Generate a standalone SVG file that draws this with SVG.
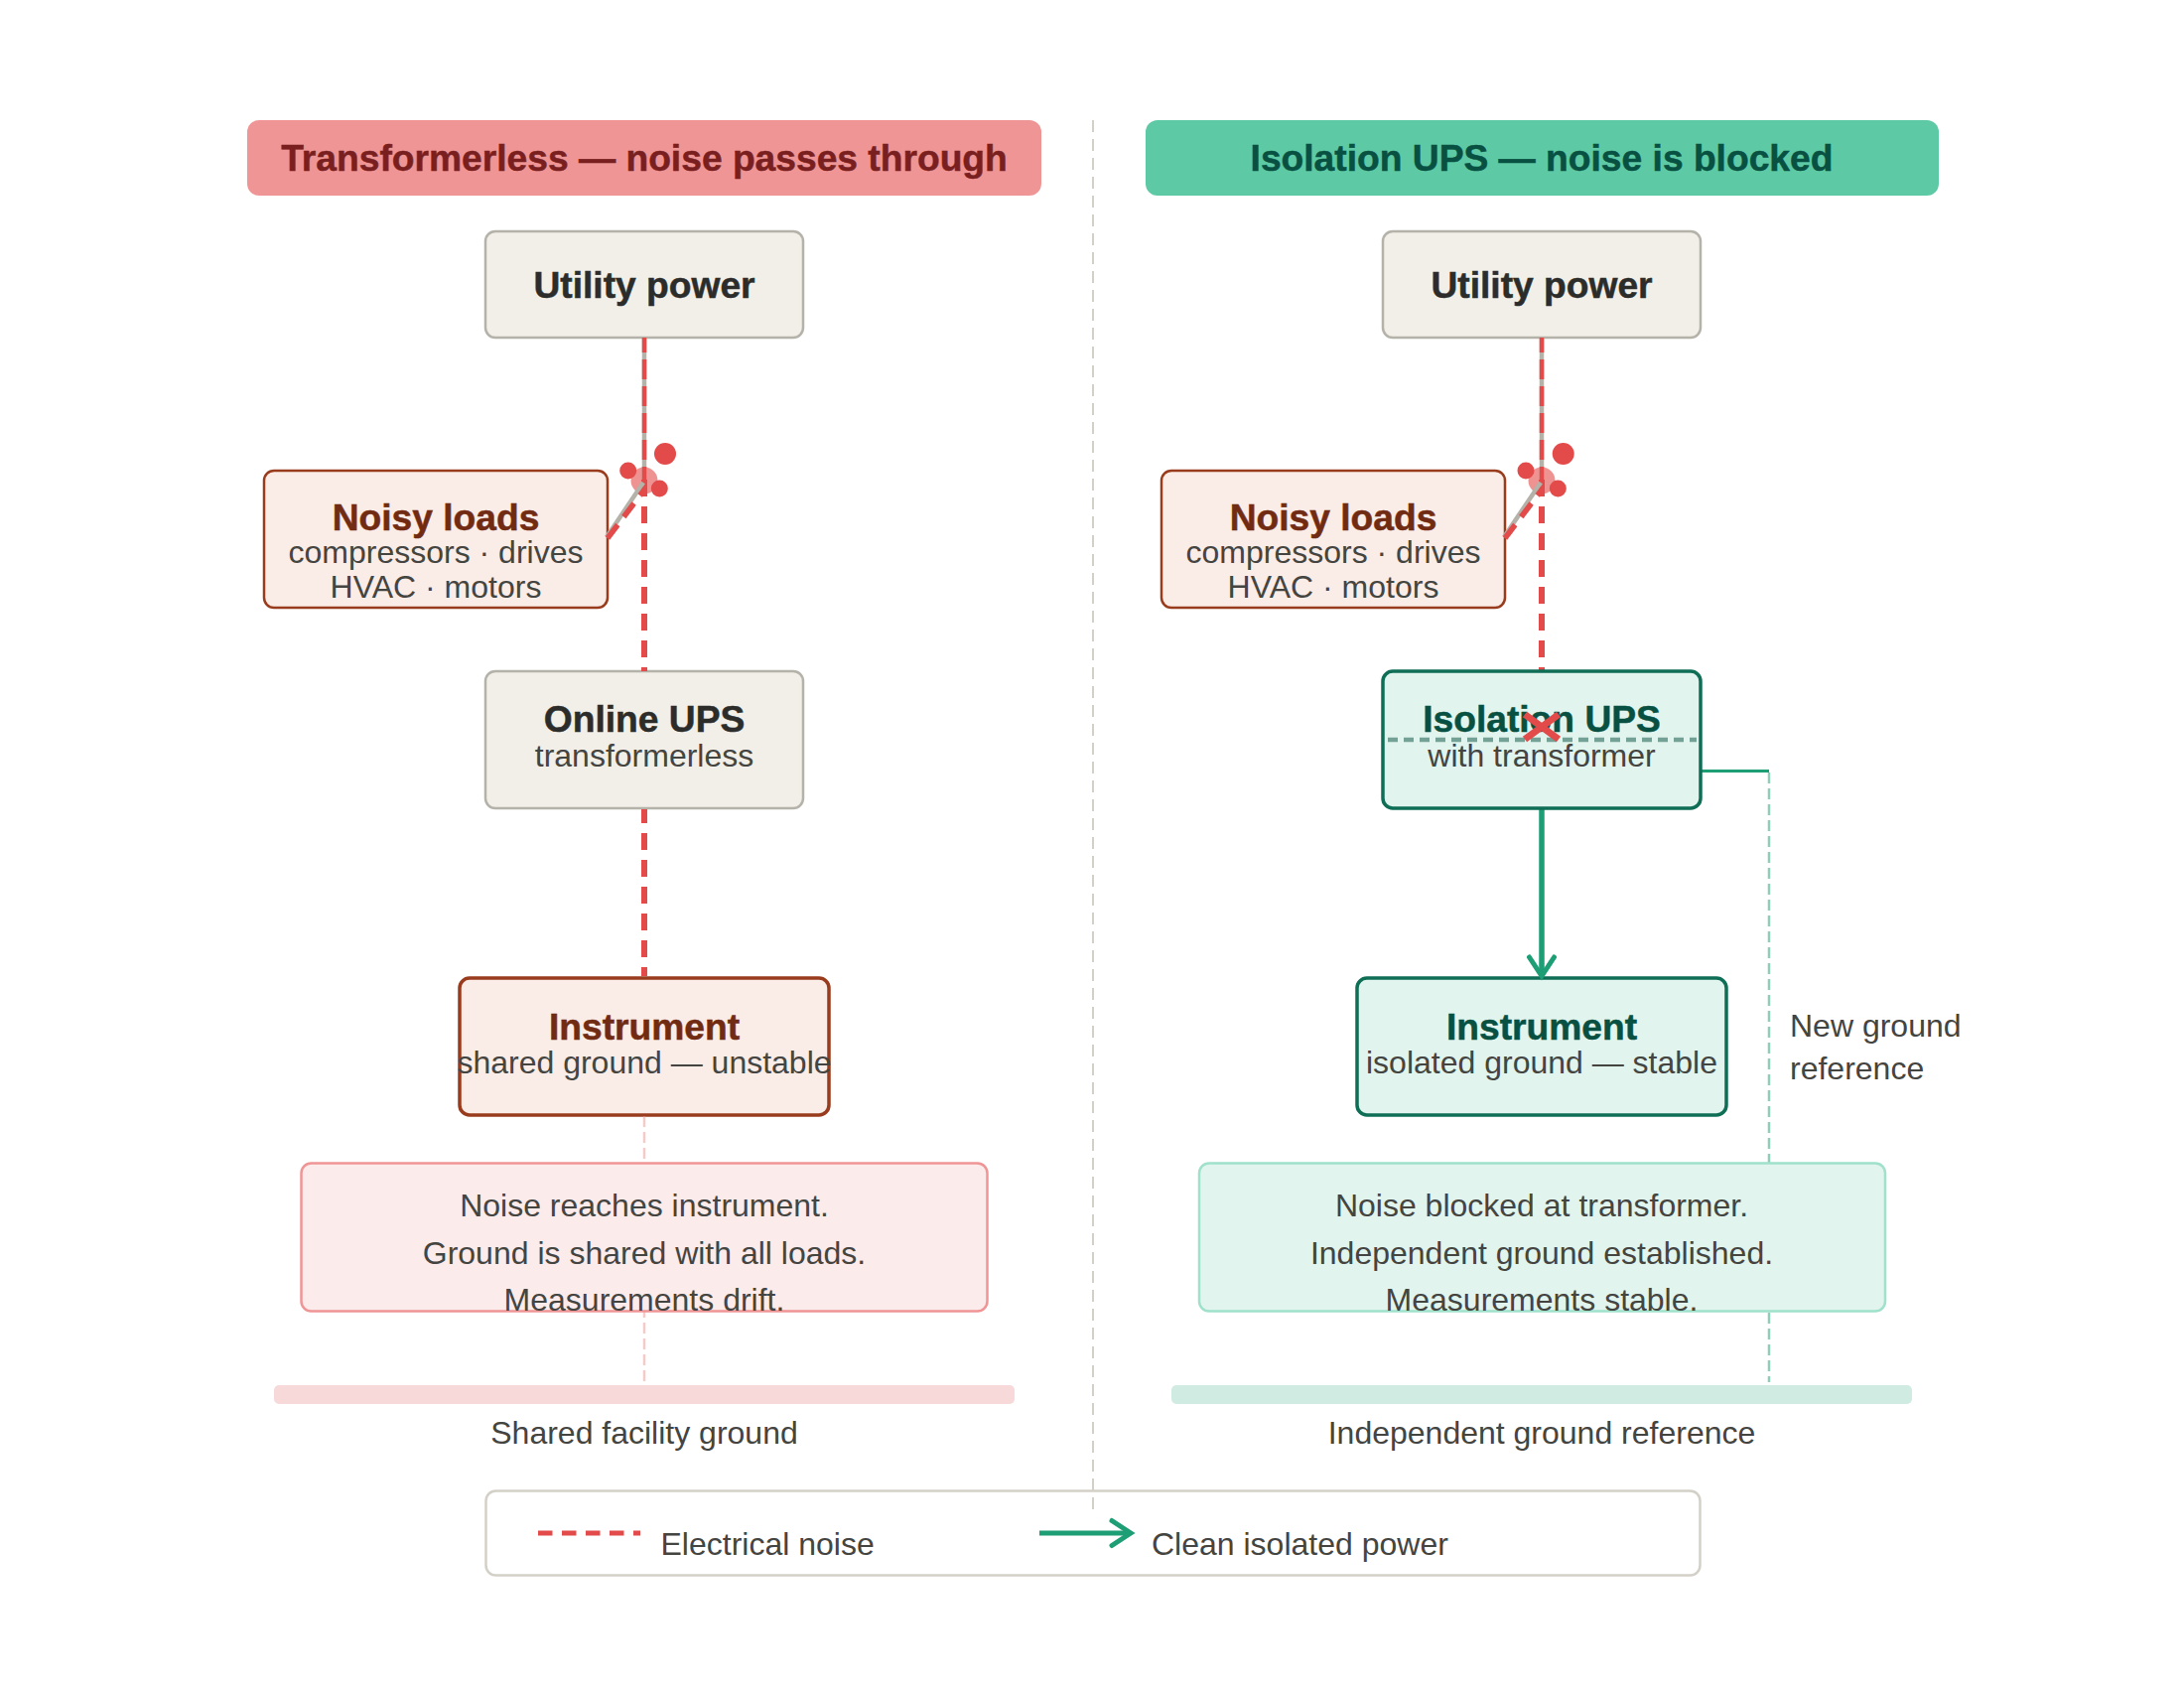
<svg xmlns="http://www.w3.org/2000/svg" width="2200" height="1700" viewBox="0 0 2200 1700">
<style>
text{font-family:"Liberation Sans",Arial,sans-serif;text-anchor:middle}
.hd,.tt{font-size:37.2px;font-weight:700;stroke-width:.5}
.st,.bd{font-size:32px;fill:#444441}
.start{text-anchor:start}
.red-t{fill:#712b13;stroke:#712b13}
.grn-t{fill:#085041;stroke:#085041}
.neu-t{fill:#2c2c2a;stroke:#2c2c2a}
.nz{fill:none;stroke:#e24b4a;stroke-width:6;stroke-dasharray:17 10}
.nz-thin{fill:none;stroke:#e24b4a;stroke-width:4.5;stroke-dasharray:20 7;stroke-dashoffset:5}
.gy{fill:none;stroke:#b4b2a9;stroke-width:4.5}
.neu{fill:#f1efe8;stroke:#b4b2a9;stroke-width:2.5}
.red{fill:#faece7;stroke:#993c1d;stroke-width:2.5}
.redb{fill:#faece7;stroke:#993c1d;stroke-width:3.5}
.grn{fill:#e1f5ee;stroke:#0f6e56;stroke-width:3.5}
.dot{fill:#e24b4a}
.blob{fill:#e24b4a;opacity:.6}
.faint{fill:none;stroke-width:2.5;stroke-dasharray:11 5;opacity:.5}
</style>
<defs>
<marker id="ah" viewBox="0 0 36 36" refX="31" refY="18" markerWidth="36" markerHeight="36" markerUnits="userSpaceOnUse" orient="auto"><path d="M12 5.5L31 18L12 30.5" fill="none" stroke="#1d9e75" stroke-width="5" stroke-linecap="round"/></marker>
</defs>
<g id="header-left"><rect x="249" y="121" width="800" height="76" rx="12" fill="#f09595"/><text class="hd" x="649" y="172" fill="#791f1f" stroke="#791f1f">Transformerless — noise passes through</text></g>
<g id="header-right"><rect x="1154" y="121" width="799" height="76" rx="12" fill="#5dcaa5"/><text class="hd grn-t" x="1553" y="172">Isolation UPS — noise is blocked</text></g>
<g id="utility-left"><rect class="neu" x="489" y="233" width="320" height="107" rx="10"/><text class="tt neu-t" x="649" y="300">Utility power</text></g>
<g id="utility-right"><rect class="neu" x="1393" y="233" width="320" height="107" rx="10"/><text class="tt neu-t" x="1553" y="300">Utility power</text></g>
<g id="noise-blob-left"><circle class="blob" cx="649" cy="484" r="13.5"/></g>
<g id="noise-blob-right"><circle class="blob" cx="1553" cy="484" r="13.5"/></g>
<g id="noisy-left"><rect class="red" x="266" y="474" width="346" height="138" rx="10"/><text class="tt red-t" x="439" y="534">Noisy loads</text><text class="st" x="439" y="567">compressors · drives</text><text class="st" x="439" y="602">HVAC · motors</text></g>
<g id="noisy-right"><rect class="red" x="1170" y="474" width="346" height="138" rx="10"/><text class="tt red-t" x="1343" y="534">Noisy loads</text><text class="st" x="1343" y="567">compressors · drives</text><text class="st" x="1343" y="602">HVAC · motors</text></g>
<g id="ups-left"><rect class="neu" x="489" y="676" width="320" height="138" rx="10"/><text class="tt neu-t" x="649" y="737">Online UPS</text><text class="st" x="649" y="772">transformerless</text></g>
<g id="instrument-left"><rect class="redb" x="463" y="985" width="372" height="138" rx="10"/><text class="tt red-t" x="649" y="1047">Instrument</text><text class="st" x="649" y="1081">shared ground — unstable</text></g>
<g id="instrument-right"><rect class="grn" x="1367" y="985" width="372" height="138" rx="10"/><text class="tt grn-t" x="1553" y="1047">Instrument</text><text class="st" x="1553" y="1081">isolated ground — stable</text></g>
<g id="connectors">
<line class="gy" x1="649" y1="340" x2="649" y2="483"/>
<line class="nz-thin" x1="649" y1="340" x2="649" y2="483"/>
<line class="nz" x1="649" y1="483" x2="649" y2="676"/>
<line class="gy" x1="611" y1="541" x2="648" y2="486"/>
<line class="nz" x1="612" y1="542" x2="650" y2="492" style="stroke-width:5.5"/>
<line class="nz" x1="649" y1="815" x2="649" y2="983" stroke-dashoffset="3"/>
<line class="faint" x1="649" y1="1124" x2="649" y2="1394" stroke="#f09595"/>
<line class="gy" x1="1553" y1="340" x2="1553" y2="483"/>
<line class="nz-thin" x1="1553" y1="340" x2="1553" y2="483"/>
<line class="nz" x1="1553" y1="483" x2="1553" y2="676"/>
<line class="gy" x1="1515" y1="541" x2="1552" y2="486"/>
<line class="nz" x1="1516" y1="542" x2="1554" y2="492" style="stroke-width:5.5"/>
<line x1="1553" y1="815" x2="1553" y2="983" stroke="#1d9e75" stroke-width="5.5" marker-end="url(#ah)"/>
<path d="M1714 776.5H1782" fill="none" stroke="#1d9e75" stroke-width="3"/>
<line class="faint" x1="1782" y1="778" x2="1782" y2="1392" stroke="#1d9e75"/>
</g>
<g id="noise-dots-left"><circle class="dot" cx="670" cy="457" r="11"/><circle class="dot" cx="632.7" cy="474" r="8.5"/><circle class="dot" cx="664.3" cy="492" r="8.5"/></g>
<g id="noise-dots-right"><circle class="dot" cx="1574.7" cy="457" r="11"/><circle class="dot" cx="1537" cy="474" r="8.5"/><circle class="dot" cx="1569.3" cy="492" r="8.5"/></g>
<g id="ups-right"><rect class="grn" x="1393" y="676" width="320" height="138" rx="10"/><text class="tt grn-t" x="1553" y="737">Isolation UPS</text><text class="st" x="1553" y="772">with transformer</text>
<line x1="1398" y1="745" x2="1709" y2="745" stroke="#085041" stroke-width="4.5" stroke-dasharray="10 6" opacity=".5"/>
<path d="M1536 719.5L1570 744.5M1570 719.5L1536 744.5" fill="none" stroke="#e24b4a" stroke-width="7"/></g>
<g id="summary-left"><rect x="303.5" y="1171.5" width="691" height="149" rx="10" fill="#fcebeb" stroke="#f09595" stroke-width="2.5"/><text class="bd" x="649" y="1225">Noise reaches instrument.</text><text class="bd" x="649" y="1273">Ground is shared with all loads.</text><text class="bd" x="649" y="1320">Measurements drift.</text></g>
<g id="summary-right"><rect x="1208" y="1171.5" width="691" height="149" rx="10" fill="#e1f5ee" stroke="#9fe1cb" stroke-width="2.5"/><text class="bd" x="1553" y="1225">Noise blocked at transformer.</text><text class="bd" x="1553" y="1273">Independent ground established.</text><text class="bd" x="1553" y="1320">Measurements stable.</text></g>
<g id="ground-left"><rect x="276" y="1395" width="746" height="19" rx="5" fill="#f7d9d9"/><text class="bd" x="649" y="1454">Shared facility ground</text></g>
<g id="ground-right"><rect x="1180" y="1395" width="746" height="19" rx="5" fill="#d0ebe1"/><text class="bd" x="1553" y="1454">Independent ground reference</text></g>
<g id="ground-note"><text class="bd start" x="1803" y="1044">New ground</text><text class="bd start" x="1803" y="1086.5">reference</text></g>
<line id="divider" x1="1101" y1="121" x2="1101" y2="1522" stroke="#d3d1c7" stroke-width="2" stroke-dasharray="12 7"/>
<g id="legend"><rect x="489.5" y="1501.5" width="1223" height="85" rx="10" fill="none" stroke="#d3d1c7" stroke-width="2.5"/>
<line x1="542" y1="1544" x2="645" y2="1544" stroke="#e24b4a" stroke-width="5" stroke-dasharray="14.5 9.5"/><text class="bd start" x="665.5" y="1566">Electrical noise</text>
<line x1="1047" y1="1544" x2="1139" y2="1544" stroke="#1d9e75" stroke-width="5" marker-end="url(#ah)"/><text class="bd start" x="1160" y="1566">Clean isolated power</text></g>
</svg>
